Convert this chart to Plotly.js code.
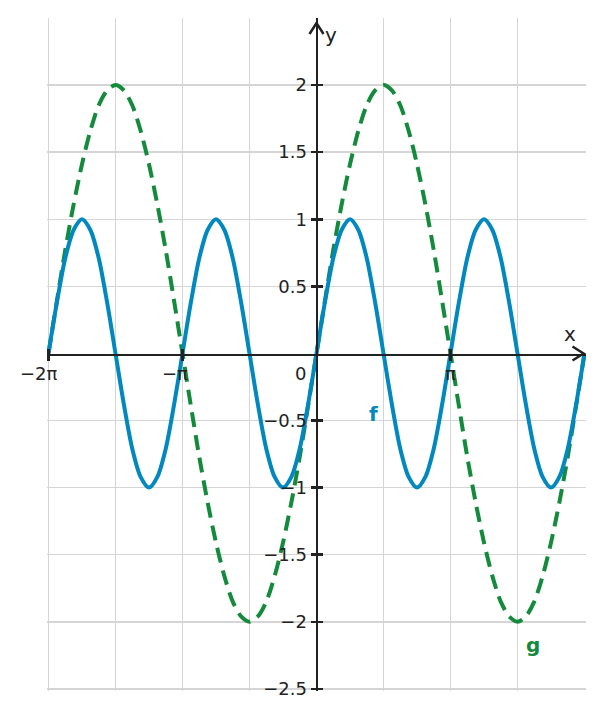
<!DOCTYPE html>
<html>
<head>
<meta charset="utf-8">
<script src="https://cdn.plot.ly/plotly-3.0.1.min.js"></script>
<style>
  html, body { margin: 0; padding: 0; background: #fff; }
  #plot { width: 604px; height: 719px; }
</style>
</head>
<body>
<div id="plot"></div>
<script>
// sample positions, in multiples of pi (steps of pi/16)
var xInPi = [-2, -1.9375, -1.875, -1.8125, -1.75, -1.6875, -1.625, -1.5625,
             -1.5, -1.4375, -1.375, -1.3125, -1.25, -1.1875, -1.125, -1.0625,
             -1, -0.9375, -0.875, -0.8125, -0.75, -0.6875, -0.625, -0.5625,
             -0.5, -0.4375, -0.375, -0.3125, -0.25, -0.1875, -0.125, -0.0625,
              0, 0.0625, 0.125, 0.1875, 0.25, 0.3125, 0.375, 0.4375,
              0.5, 0.5625, 0.625, 0.6875, 0.75, 0.8125, 0.875, 0.9375,
              1, 1.0625, 1.125, 1.1875, 1.25, 1.3125, 1.375, 1.4375,
              1.5, 1.5625, 1.625, 1.6875, 1.75, 1.8125, 1.875, 1.9375, 2];

// f values
var fValues = [0, 0.38, 0.71, 0.92, 1, 0.92, 0.71, 0.38,
               0, -0.38, -0.71, -0.92, -1, -0.92, -0.71, -0.38,
               0, 0.38, 0.71, 0.92, 1, 0.92, 0.71, 0.38,
               0, -0.38, -0.71, -0.92, -1, -0.92, -0.71, -0.38,
               0, 0.38, 0.71, 0.92, 1, 0.92, 0.71, 0.38,
               0, -0.38, -0.71, -0.92, -1, -0.92, -0.71, -0.38,
               0, 0.38, 0.71, 0.92, 1, 0.92, 0.71, 0.38,
               0, -0.38, -0.71, -0.92, -1, -0.92, -0.71, -0.38, 0];

// g values
var gValues = [0, 0.39, 0.77, 1.11, 1.41, 1.66, 1.85, 1.96,
               2, 1.96, 1.85, 1.66, 1.41, 1.11, 0.77, 0.39,
               0, -0.39, -0.77, -1.11, -1.41, -1.66, -1.85, -1.96,
               -2, -1.96, -1.85, -1.66, -1.41, -1.11, -0.77, -0.39,
               0, 0.39, 0.77, 1.11, 1.41, 1.66, 1.85, 1.96,
               2, 1.96, 1.85, 1.66, 1.41, 1.11, 0.77, 0.39,
               0, -0.39, -0.77, -1.11, -1.41, -1.66, -1.85, -1.96,
               -2, -1.96, -1.85, -1.66, -1.41, -1.11, -0.77, -0.39, 0];

var gridInPi = [-2, -1.5, -1, -0.5, 0, 0.5, 1, 1.5];
var xTickInPi = [-2, -1, 1];
var xTickText = ['\u22122\u03c0', '\u2212\u03c0', '\u03c0'];
var xTickShift = [-9, -8, 0];
var yTickVals = [-2.5, -2, -1.5, -1, -0.5, 0.5, 1, 1.5, 2];

var PI = Math.PI;
var xs = xInPi.map(function (v) { return v * PI; });

var blue = '#0088bf';
var green = '#148a3c';
var ink = '#222222';
var gridColor = '#d5d5d5';
var fontFamily = 'DejaVu Sans, sans-serif';

var traces = [
  {
    x: xs, y: gValues, type: 'scatter', mode: 'lines',
    line: { color: green, width: 4, dash: '15px,8px', shape: 'spline', smoothing: 0.8 },
    hoverinfo: 'skip'
  },
  {
    x: xs, y: fValues, type: 'scatter', mode: 'lines',
    line: { color: blue, width: 4, shape: 'spline', smoothing: 0.8 },
    hoverinfo: 'skip'
  },
  // helpers so the overlaid axes get drawn
  { x: [], y: [], xaxis: 'x2', yaxis: 'y', hoverinfo: 'skip' },
  { x: [], y: [], xaxis: 'x3', yaxis: 'y', hoverinfo: 'skip' },
  { x: [], y: [], xaxis: 'x', yaxis: 'y2', hoverinfo: 'skip' }
];

// a little wider than the data so the edge grid lines are not clipped
var xRange = [-2 * PI - 0.035, 2 * PI + 0.035];
var yRange = [-2.516, 2.5];

var annotations = xTickInPi.map(function (v, i) {
  return {
    x: v * PI, y: 0, xref: 'x', yref: 'y', text: xTickText[i], showarrow: false,
    xshift: xTickShift[i], yshift: -20,
    font: { family: fontFamily, size: 18, color: ink }
  };
});
annotations.push(
  { x: 0, y: 0, text: '0', showarrow: false, xshift: -16, yshift: -20,
    font: { family: fontFamily, size: 18, color: ink } },
  { x: 5.94, y: 0.145, text: 'x', showarrow: false,
    font: { family: fontFamily, size: 20, color: ink } },
  { x: 0.33, y: 2.37, text: 'y', showarrow: false,
    font: { family: fontFamily, size: 20, color: ink } },
  { x: 1.334, y: -0.45, text: '<b>f</b>', showarrow: false,
    font: { family: fontFamily, size: 20, color: blue } },
  { x: 5.08, y: -2.17, text: '<b>g</b>', showarrow: false,
    font: { family: fontFamily, size: 20, color: green } }
);

var shapes = [
  // arrow head on the x axis
  { type: 'path', xref: 'x', yref: 'y', xsizemode: 'pixel', ysizemode: 'pixel',
    xanchor: 2 * PI, yanchor: 0, path: 'M -12 7 L -1 0 L -12 -7',
    line: { color: ink, width: 2.5 } },
  // arrow head on the y axis
  { type: 'path', xref: 'x', yref: 'y', xsizemode: 'pixel', ysizemode: 'pixel',
    xanchor: 0, yanchor: 2.5, path: 'M -7 -16 L 0 -5 L 7 -16',
    line: { color: ink, width: 2.5 } }
];

var axisLine = { showline: true, linecolor: ink, linewidth: 2.5, zeroline: false, showgrid: false };

var layout = {
  width: 604,
  height: 719,
  margin: { l: 47, r: 18, t: 18, b: 28 },
  paper_bgcolor: '#fff',
  plot_bgcolor: '#fff',
  showlegend: false,
  font: { family: fontFamily, size: 18, color: ink },
  xaxis: {
    range: xRange, tickvals: gridInPi.map(function (v) { return v * PI; }),
    showticklabels: false, ticks: '', showgrid: true, gridcolor: gridColor, gridwidth: 1.5,
    zeroline: false, showline: false, fixedrange: true
  },
  xaxis2: Object.assign({
    overlaying: 'x', anchor: 'free', position: 0.5, side: 'bottom', range: xRange,
    tickvals: xTickInPi.map(function (v) { return v * PI; }), showticklabels: false,
    ticks: 'outside', ticklen: 5, tickwidth: 2.5, tickcolor: ink
  }, axisLine),
  xaxis3: Object.assign({
    overlaying: 'x', anchor: 'free', position: 0.5, side: 'bottom', range: xRange,
    tickvals: xTickInPi.map(function (v) { return v * PI; }), showticklabels: false,
    ticks: 'inside', ticklen: 5, tickwidth: 2.5, tickcolor: ink
  }, axisLine),
  yaxis: {
    range: yRange, anchor: 'free', position: 0.5, side: 'left',
    tickvals: yTickVals, ticktext: yTickVals.map(function (v) { return String(v).replace('-', '\u2212'); }),
    ticks: 'outside', ticklen: 5, tickwidth: 2.5, tickcolor: ink,
    showgrid: true, gridcolor: gridColor, gridwidth: 1.5,
    showline: true, linecolor: ink, linewidth: 2.5, zeroline: false,
    tickfont: { family: fontFamily, size: 18, color: ink }, fixedrange: true
  },
  yaxis2: Object.assign({
    overlaying: 'y', anchor: 'free', position: 0.5, side: 'left', range: yRange,
    tickvals: yTickVals, showticklabels: false,
    ticks: 'inside', ticklen: 5, tickwidth: 2.5, tickcolor: ink
  }, axisLine),
  annotations: annotations,
  shapes: shapes
};

Plotly.newPlot('plot', traces, layout, { displayModeBar: false, staticPlot: true });
</script>
</body>
</html>
